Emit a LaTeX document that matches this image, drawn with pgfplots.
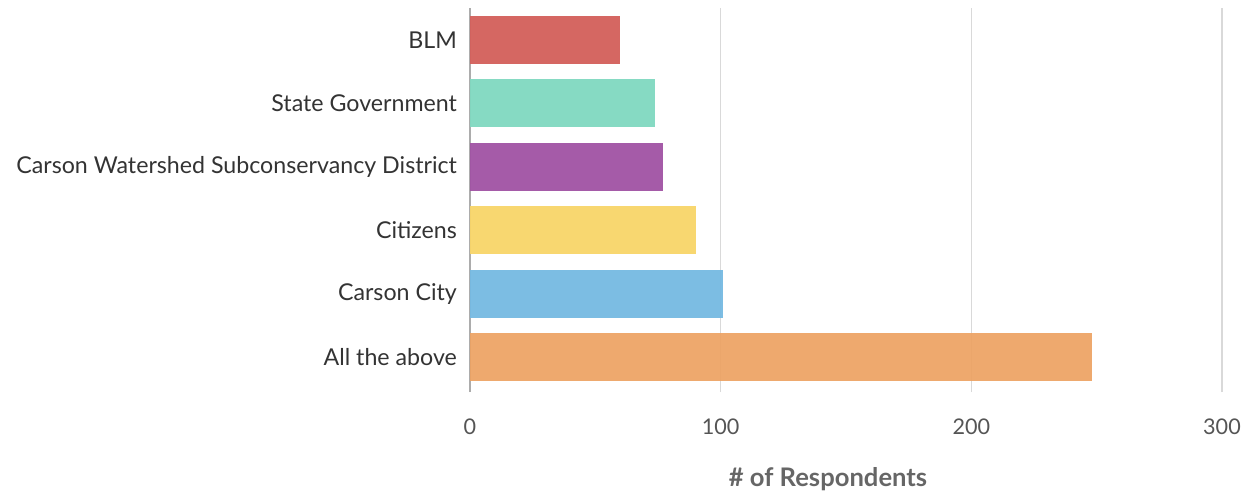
\documentclass[border=0pt]{standalone}
\usepackage{fontspec}
\setmainfont{Lato}
\usepackage{pgfplots}
\pgfplotsset{compat=1.18}

\definecolor{cblm}{HTML}{D35F5A}
\definecolor{cstate}{HTML}{80D8C0}
\definecolor{ccwsd}{HTML}{A052A3}
\definecolor{ccit}{HTML}{F8D568}
\definecolor{ccity}{HTML}{75B9E2}
\definecolor{call}{HTML}{EDA262}
\definecolor{labtext}{HTML}{333333}
\definecolor{ticktext}{HTML}{555555}
\definecolor{titletext}{HTML}{666666}

\begin{document}
\begin{tikzpicture}
\begin{axis}[
  at={(0,0)}, anchor=south west,
  scale only axis,
  width=376pt, height=192pt,
  xmin=0, xmax=300,
  ymin=-0.55, ymax=5.5,
  xbar, bar shift=0pt, bar width=24pt,
  axis line style={draw=none},
  xmajorgrids,
  grid style={gray!30, line width=0.6pt},
  extra x ticks={0},
  extra x tick labels={},
  extra x tick style={grid style={gray!65, line width=0.6pt}},
  xtick={0,100,200,300},
  ytick={0,1,2,3,4,5},
  yticklabels={All the above, Carson City, Citizens, Carson Watershed Subconservancy District, State Government, BLM},
  major tick length=0pt,
  tick style={draw=none},
  yticklabel style={font=\fontsize{11.6}{13}\selectfont, text=labtext, xshift=-3pt},
  xticklabel style={font=\fontsize{10.8}{12}\selectfont, text=ticktext, yshift=-10pt},
  /pgf/number format/assume math mode=true,
  xlabel={\textbf{\# of Respondents}},
  xlabel style={font=\fontsize{12.8}{14}\selectfont, text=titletext, yshift=-9.5pt, xshift=-9pt},
]
\addplot[draw=none, fill=cblm, fill opacity=0.95] coordinates {(60,5)};
\addplot[draw=none, fill=cstate, fill opacity=0.95] coordinates {(74,4)};
\addplot[draw=none, fill=ccwsd, fill opacity=0.95] coordinates {(77,3)};
\addplot[draw=none, fill=ccit, fill opacity=0.95] coordinates {(90,2)};
\addplot[draw=none, fill=ccity, fill opacity=0.95] coordinates {(101,1)};
\addplot[draw=none, fill=call, fill opacity=0.92] coordinates {(248,0)};
\end{axis}
\pgfresetboundingbox
\path[use as bounding box] (-235pt,-51.5pt) rectangle (392pt,196pt);
\end{tikzpicture}
\end{document}
